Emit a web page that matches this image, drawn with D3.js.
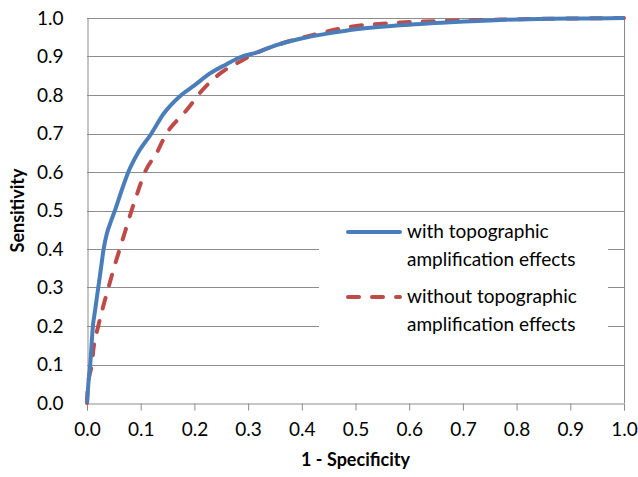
<!DOCTYPE html>
<html>
<head>
<meta charset="utf-8">
<script src="https://cdn.jsdelivr.net/npm/d3@7"></script>
<style>
  body { margin: 0; background: #fff; }
  text { font-family: Lato, "Open Sans", sans-serif; fill: #000; }
</style>
</head>
<body>
<div id="chart"></div>
<script>
const width = 638;
const height = 477;

// ROC curve with topographic amplification effects
const withFpr = [0, 0.0025, 0.006, 0.011, 0.015, 0.021, 0.026, 0.031, 0.037, 0.044, 0.052, 0.064, 0.077, 0.095, 0.120, 0.142, 0.173, 0.200, 0.229, 0.260, 0.285, 0.320, 0.341, 0.397, 0.450, 0.490, 0.583, 0.676, 0.769, 0.862, 0.930, 1.0];
const withTpr = [0, 0.05, 0.1, 0.2, 0.24, 0.3, 0.35, 0.4, 0.44, 0.47, 0.5, 0.55, 0.6, 0.65, 0.7, 0.75, 0.797, 0.825, 0.856, 0.88, 0.898, 0.912, 0.924, 0.946, 0.960, 0.969, 0.981, 0.989, 0.995, 0.998, 0.999, 1.0];

// ROC curve without topographic amplification effects
const withoutFpr = [0, 0.001, 0.003, 0.006, 0.009, 0.012, 0.021, 0.030, 0.040, 0.050, 0.061, 0.072, 0.083, 0.095, 0.108, 0.130, 0.148, 0.165, 0.182, 0.192, 0.210, 0.248, 0.285, 0.313, 0.359, 0.421, 0.490, 0.583, 0.676, 0.769, 0.862, 1.0];
const withoutTpr = [0, 0.03, 0.06, 0.08, 0.1, 0.14, 0.2, 0.25, 0.3, 0.35, 0.4, 0.45, 0.5, 0.55, 0.6, 0.65, 0.7, 0.73, 0.755, 0.772, 0.805, 0.856, 0.887, 0.908, 0.932, 0.956, 0.977, 0.988, 0.993, 0.996, 0.998, 1.0];

const xTicks = [0, 0.1, 0.2, 0.3, 0.4, 0.5, 0.6, 0.7, 0.8, 0.9, 1.0];
const yTicks = [0, 0.1, 0.2, 0.3, 0.4, 0.5, 0.6, 0.7, 0.8, 0.9, 1.0];

const legendLabels = [
  ["with topographic", "amplification effects"],
  ["without topographic", "amplification effects"]
];

const blue = "#4a7ebb";
const red = "#be4b48";
const gridColor = "#8c8c8c";

const plot = { left: 87, right: 624, top: 18, bottom: 403 };

const svg = d3
  .select("#chart")
  .append("svg")
  .attr("width", width)
  .attr("height", height);

const x = d3.scaleLinear().domain([0, 1]).range([plot.left, plot.right]);
const y = d3.scaleLinear().domain([0, 1]).range([plot.bottom, plot.top]);

// horizontal gridlines
svg
  .append("g")
  .selectAll("line")
  .data(yTicks.filter((d) => d > 0))
  .enter()
  .append("line")
  .attr("x1", plot.left)
  .attr("x2", plot.right)
  .attr("y1", (d) => Math.round(y(d)) + 0.5)
  .attr("y2", (d) => Math.round(y(d)) + 0.5)
  .attr("stroke", gridColor)
  .attr("stroke-width", 1);

// right border of the plot area
svg
  .append("line")
  .attr("x1", plot.right + 0.5)
  .attr("x2", plot.right + 0.5)
  .attr("y1", plot.top)
  .attr("y2", plot.bottom)
  .attr("stroke", gridColor);

// x axis
const xAxis = svg
  .append("g")
  .attr("transform", "translate(0," + (plot.bottom + 0.5) + ")")
  .call(
    d3.axisBottom(x)
      .tickValues(xTicks)
      .tickSize(7)
      .tickPadding(12)
      .tickFormat(d3.format(".1f"))
  );
xAxis.select(".domain").attr("stroke", gridColor);
xAxis.selectAll(".tick line").attr("stroke", gridColor);
xAxis.selectAll(".tick text").style("font-size", "19px").attr("fill", "#000");

// y axis
const yAxis = svg
  .append("g")
  .attr("transform", "translate(" + (plot.left + 0.5) + ",0)")
  .call(
    d3.axisLeft(y)
      .tickValues(yTicks)
      .tickSize(0)
      .tickPadding(24)
      .tickFormat(d3.format(".1f"))
  );
yAxis.select(".domain").attr("stroke", gridColor);
yAxis.selectAll(".tick text").style("font-size", "19px").attr("fill", "#000");

// axis titles
svg
  .append("text")
  .attr("x", (plot.left + plot.right) / 2)
  .attr("y", 466)
  .attr("text-anchor", "middle")
  .style("font-size", "18px")
  .style("font-weight", "bold")
  .text("1 - Specificity");

svg
  .append("text")
  .attr("transform", "translate(24," + (plot.top + plot.bottom) / 2 + ") rotate(-90)")
  .attr("text-anchor", "middle")
  .style("font-size", "18px")
  .style("font-weight", "bold")
  .text("Sensitivity");

// curves
const line = d3
  .line()
  .x((d) => x(d[0]))
  .y((d) => y(d[1]))
  .curve(d3.curveMonotoneX);

svg
  .append("path")
  .datum(d3.zip(withoutFpr, withoutTpr))
  .attr("d", line)
  .attr("fill", "none")
  .attr("stroke", red)
  .attr("stroke-width", 4)
  .attr("stroke-linecap", "round")
  .attr("stroke-dasharray", "11,13");

svg
  .append("path")
  .datum(d3.zip(withFpr, withTpr))
  .attr("d", line)
  .attr("fill", "none")
  .attr("stroke", blue)
  .attr("stroke-width", 4)
  .attr("stroke-linejoin", "round");

// legend
const legend = svg.append("g").attr("class", "legend");

legend
  .append("rect")
  .attr("x", 319)
  .attr("y", 215)
  .attr("width", 289)
  .attr("height", 128)
  .attr("fill", "#fff");

const legendStyles = [
  { color: blue, dash: null, y: 232 },
  { color: red, dash: "11,13", y: 297 }
];

legendStyles.forEach(function (s, i) {
  legend
    .append("line")
    .attr("x1", 348)
    .attr("x2", 400)
    .attr("y1", s.y)
    .attr("y2", s.y)
    .attr("stroke", s.color)
    .attr("stroke-width", 4)
    .attr("stroke-linecap", "round")
    .attr("stroke-dasharray", s.dash);

  legend
    .selectAll(".lbl" + i)
    .data(legendLabels[i])
    .enter()
    .append("text")
    .attr("x", 407)
    .attr("y", (d, j) => s.y + 6 + j * 28)
    .style("font-size", "19px")
    .text((d) => d);
});
</script>
</body>
</html>
